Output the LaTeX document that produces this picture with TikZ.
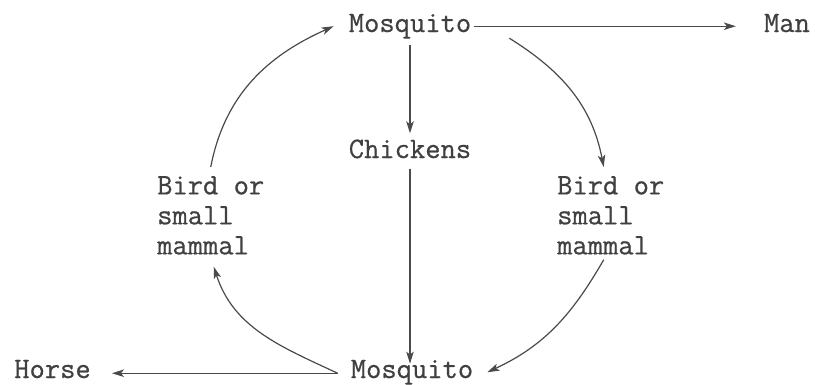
\documentclass[tikz,border=0pt]{standalone}
\usepackage{fontspec}
\newfontfamily\tw{Latin Modern Mono}[FakeBold=0.6]
\usetikzlibrary{arrows.meta}
\definecolor{ink}{HTML}{404040}
\definecolor{wire}{HTML}{4A4A4A}
\begin{document}
\begin{tikzpicture}[x=1pt,y=1pt,
  lbl/.style={inner sep=3pt,text=ink,font=\tw\fontsize{29.7}{30}\selectfont},
  blk/.style={lbl,inner sep=0pt,align=left,anchor=north west},
  arr/.style={draw=wire,line width=1.2pt,-{Stealth[length=12pt,width=7.5pt,inset=3pt]}}]
\fill[white] (0,0) rectangle (815,384);
\useasboundingbox (0,0) rectangle (815,384);
\node[lbl,anchor=base] (mtop) at (410,352) {Mosquito};
\node[lbl,anchor=base] (man) at (787,352) {Man};
\node[lbl,anchor=base] (chick) at (410,226) {Chickens};
\node[lbl,anchor=base] (mbot) at (412,6) {Mosquito};
\node[lbl,anchor=base] (horse) at (52.5,6) {Horse};
\node[blk] (birdL) at (157,208) {Bird or\\small\\mammal};
\node[blk] (birdR) at (557,208) {Bird or\\small\\mammal};
% straight connectors
\draw[arr,shorten >=25pt] (mtop.east) -- (mtop.east -| man.west);
\draw[arr,shorten <=3pt] (mtop.south) -- ([yshift=3pt]chick.north);
\draw[arr,shorten <=7pt,shorten >=-7pt] (chick.south) -- (chick.south |- mbot.north);
\coordinate (mbotL) at ([xshift=-10pt,yshift=-1pt]mbot.west);
\draw[arr,shorten >=18pt] (mbotL) -- (mbotL -| horse.east);
% arcs
\draw[arr] ([yshift=9pt]birdL.north) to[out=79,in=204] ([xshift=-12pt]mtop.west);
\draw[arr] ([xshift=35pt,yshift=-12pt]mtop.east) to[out=-32,in=101] ([xshift=-7pt,yshift=9pt]birdR.north);
\draw[arr] ([xshift=-7pt,yshift=-5pt]birdR.south) to[out=240,in=25] ([xshift=11pt]mbot.east);
\draw[arr] (mbotL) to[out=155,in=-72] ([xshift=3pt,yshift=-12pt]birdL.south);
\end{tikzpicture}
\end{document}
